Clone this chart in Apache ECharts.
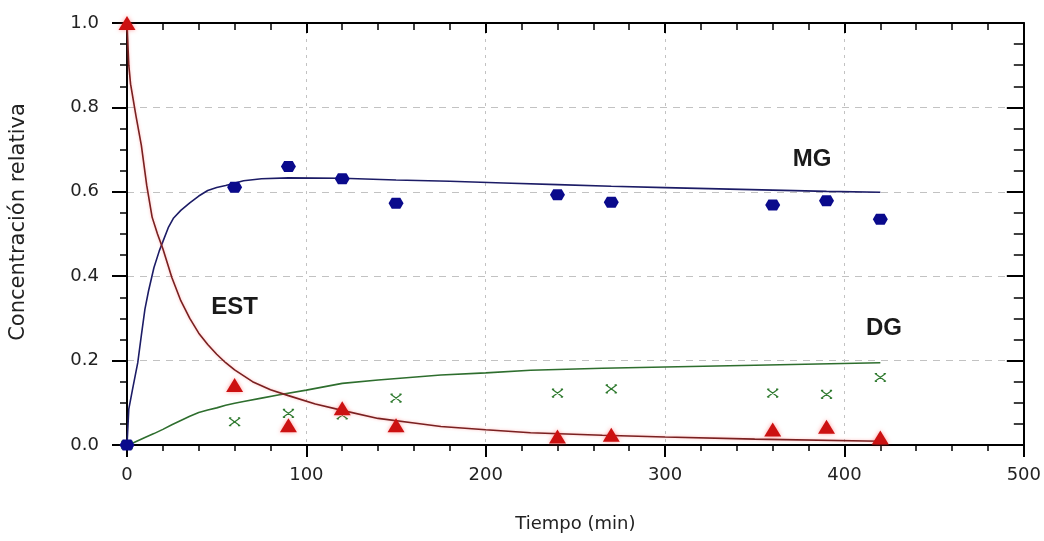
<!DOCTYPE html>
<html>
<head>
<meta charset="utf-8">
<script src="https://cdn.jsdelivr.net/npm/echarts@6/dist/echarts.min.js"></script>
<style>
html,body{margin:0;padding:0;background:#fff;}
#chart{width:1044px;height:541px;}
</style>
</head>
<body>
<div id="chart"></div>
<script>
// ---- Observed data (markers) ----
const timeObs = [0, 60, 90, 120, 150, 240, 270, 360, 390, 420];
const estObs  = [1.0, 0.142, 0.047, 0.087, 0.047, 0.020, 0.024, 0.037, 0.043, 0.018];
const mgObs   = [0, 0.611, 0.660, 0.631, 0.573, 0.593, 0.575, 0.569, 0.579, 0.535];
const dgObs   = [0, 0.055, 0.075, 0.071, 0.111, 0.123, 0.133, 0.123, 0.120, 0.160];

// ---- Fitted model curves ----
const estT   = [0, 1, 2, 5, 8, 11, 14, 17, 20, 25, 30, 35, 40, 45, 50, 55, 60, 70, 80, 90, 105, 120, 140, 160, 175, 200, 225, 265, 300, 350, 420];
const estFit = [1.0, 0.90, 0.855, 0.78, 0.71, 0.615, 0.54, 0.50, 0.465, 0.397, 0.342, 0.30, 0.265, 0.238, 0.215, 0.195, 0.178, 0.15, 0.131, 0.117, 0.097, 0.082, 0.063, 0.052, 0.044, 0.036, 0.029, 0.023, 0.019, 0.014, 0.009];

const mgT   = [0, 1, 3, 6, 8, 10, 12, 15, 18, 20, 23, 26, 30, 35, 40, 45, 50, 55, 65, 75, 90, 120, 150, 180, 210, 240, 270, 300, 330, 360, 390, 420];
const mgFit = [0, 0.085, 0.13, 0.195, 0.26, 0.322, 0.365, 0.42, 0.46, 0.482, 0.515, 0.538, 0.556, 0.574, 0.59, 0.603, 0.61, 0.615, 0.626, 0.631, 0.633, 0.632, 0.628, 0.625, 0.621, 0.617, 0.613, 0.610, 0.607, 0.604, 0.601, 0.599];

const dgT   = [0, 3, 10, 15, 20, 25, 30, 35, 40, 45, 50, 55, 60, 65, 75, 85, 100, 120, 140, 175, 200, 225, 265, 300, 350, 385, 420];
const dgFit = [0, 0.004, 0.018, 0.027, 0.037, 0.048, 0.058, 0.068, 0.077, 0.083, 0.088, 0.094, 0.099, 0.103, 0.111, 0.119, 0.130, 0.146, 0.154, 0.166, 0.171, 0.177, 0.182, 0.185, 0.189, 0.192, 0.195];

// ---- Axis ticks ----
const xTicks = [0, 100, 200, 300, 400, 500];
const yTicks = [0.0, 0.2, 0.4, 0.6, 0.8, 1.0];

// ---- Curve annotations (anchor in data space) ----
const annNames = ['MG', 'EST', 'DG'];
const annT = [382, 60, 422];
const annV = [0.678, 0.327, 0.277];

const zip = (a, b) => a.map((v, i) => [v, b[i]]);

const chart = echarts.init(document.getElementById('chart'), null, {renderer: 'canvas'});

const font = 'DejaVu Sans';
const axisBase = (extra) => Object.assign({
  type: 'value',
  axisLine: {show: true, onZero: false, lineStyle: {color: '#000', width: 2}},
}, extra);

function annotation(idx) {
  return {
    symbol: 'rect', symbolSize: 1,
    itemStyle: {color: 'rgba(0,0,0,0)'},
    label: {
      show: true, position: 'inside', formatter: annNames[idx],
      fontFamily: 'Liberation Sans', fontWeight: 'bold', fontSize: 24, color: '#1a1a1a',
      backgroundColor: '#fff', padding: [0, 2]
    },
    data: [{coord: [annT[idx], annV[idx]]}],
    silent: true, animation: false
  };
}

const option = {
  animation: false,
  backgroundColor: '#fff',
  grid: {left: 125, right: 20, top: 23, bottom: 96, containLabel: false},
  xAxis: [
    axisBase({
      min: xTicks[0], max: xTicks[xTicks.length - 1], interval: xTicks[1] - xTicks[0],
      position: 'bottom',
      axisTick: {show: true, inside: false, length: 12, lineStyle: {color: '#000', width: 2}},
      minorTick: {show: true, splitNumber: 5, length: 6, lineStyle: {color: '#000', width: 1.5}},
      splitLine: {show: true, lineStyle: {color: '#c2c2c2', type: [3, 5], width: 1}},
      axisLabel: {fontFamily: font, fontSize: 18, color: '#222', margin: 21},
      name: 'Tiempo (min)', nameLocation: 'middle', nameGap: 70,
      nameTextStyle: {fontFamily: font, fontSize: 18, color: '#222'}
    }),
    axisBase({
      min: xTicks[0], max: xTicks[xTicks.length - 1], interval: xTicks[1] - xTicks[0],
      position: 'top',
      axisTick: {show: true, inside: true, length: 10, lineStyle: {color: '#000', width: 2}},
      minorTick: {show: true, splitNumber: 5, length: 7, lineStyle: {color: '#000', width: 1.5}},
      splitLine: {show: false},
      axisLabel: {show: false}
    })
  ],
  yAxis: [
    axisBase({
      min: yTicks[0], max: yTicks[yTicks.length - 1], interval: yTicks[1] - yTicks[0],
      position: 'left',
      axisTick: {show: true, inside: false, length: 15, lineStyle: {color: '#000', width: 2}},
      minorTick: {show: true, splitNumber: 4, length: 7, lineStyle: {color: '#000', width: 1.5}},
      splitLine: {show: true, lineStyle: {color: '#c2c2c2', type: [7, 6], width: 1}},
      axisLabel: {fontFamily: font, fontSize: 18, color: '#222', margin: 28,
        formatter: v => v.toFixed(1)},
      name: 'Concentración relativa', nameLocation: 'middle', nameGap: 98,
      nameTextStyle: {fontFamily: font, fontSize: 21, color: '#222', padding: [0, 0, 0, 24]}
    }),
    axisBase({
      min: yTicks[0], max: yTicks[yTicks.length - 1], interval: yTicks[1] - yTicks[0],
      position: 'right',
      axisTick: {show: true, inside: true, length: 17, lineStyle: {color: '#000', width: 2}},
      minorTick: {show: true, splitNumber: 4, length: 10, lineStyle: {color: '#000', width: 1.5}},
      splitLine: {show: false},
      axisLabel: {show: false}
    })
  ],
  series: [
    {
      name: 'DG modelo', type: 'line', data: zip(dgT, dgFit), showSymbol: false,
      lineStyle: {color: '#2e6e2e', width: 1.6}, z: 2,
      markPoint: annotation(2)
    },
    {
      name: 'MG modelo', type: 'line', data: zip(mgT, mgFit), showSymbol: false,
      lineStyle: {color: '#1c1c66', width: 1.6}, z: 2,
      markPoint: annotation(0)
    },
    {
      name: 'EST modelo', type: 'line', data: zip(estT, estFit), showSymbol: false,
      lineStyle: {color: '#7a2020', width: 1.6, shadowBlur: 3, shadowColor: 'rgba(255,90,90,0.45)'}, z: 2,
      markPoint: annotation(1)
    },
    {
      name: 'DG', type: 'scatter', data: zip(timeObs, dgObs),
      symbol: 'path://M0,0 L10,8 M0,8 L10,0 M0,0 L2,0 M8,0 L10,0 M0,8 L2,8 M8,8 L10,8',
      symbolSize: [11, 8],
      itemStyle: {color: 'rgba(0,0,0,0)', borderColor: '#2f7a2f', borderWidth: 1.3, opacity: 1},
      z: 3
    },
    {
      name: 'MG', type: 'scatter', data: zip(timeObs, mgObs),
      symbol: 'path://M3,0 L11,0 L14,5 L11,10 L3,10 L0,5 Z', symbolSize: [15, 11],
      itemStyle: {color: '#0a0a8c', opacity: 1}, z: 4
    },
    {
      name: 'EST', type: 'scatter', data: zip(timeObs, estObs),
      symbol: 'triangle', symbolSize: [17, 14], clip: false,
      itemStyle: {color: '#cc1111', opacity: 1, shadowBlur: 4, shadowColor: 'rgba(255,60,60,0.5)'}, z: 5
    }
  ]
};
chart.setOption(option);
</script>
</body>
</html>
